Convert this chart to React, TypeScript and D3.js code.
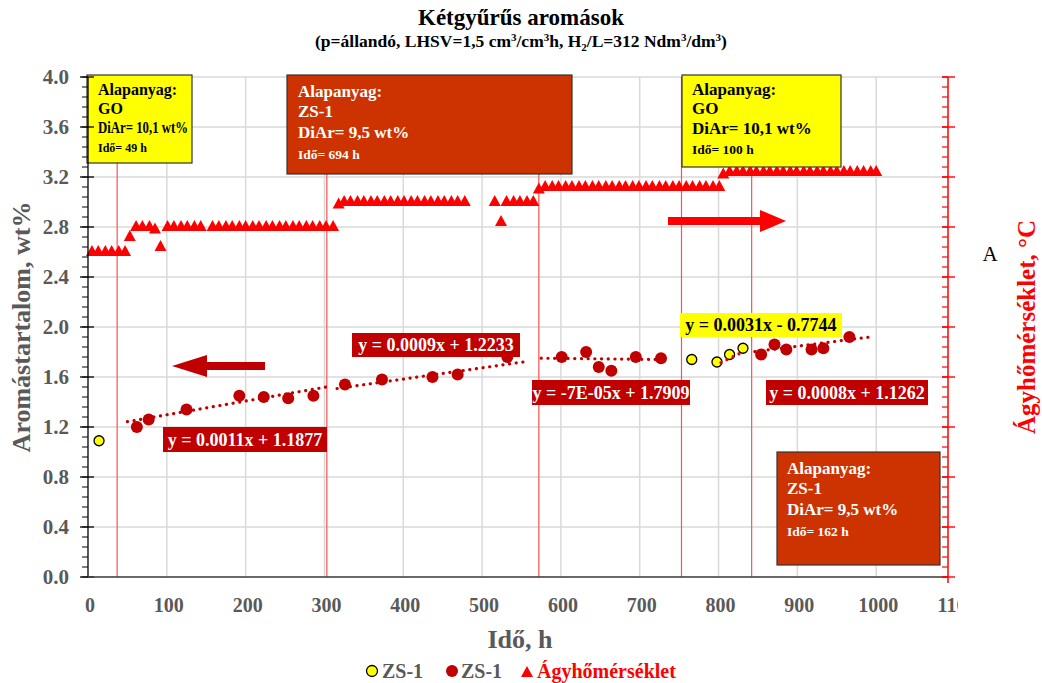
import React from 'react';
import * as d3 from 'd3';

// ---------- data ----------
const xTicks = [0, 100, 200, 300, 400, 500, 600, 700, 800, 900, 1000, 1100];
const yTicks = [0, 0.4, 0.8, 1.2, 1.6, 2.0, 2.4, 2.8, 3.2, 3.6, 4.0];

const yellowTime = [14, 766, 798, 814, 831];
const yellowAroma = [1.09, 1.74, 1.72, 1.78, 1.83];

const redTime = [62, 77, 125, 192, 223, 254, 286, 326, 373, 437, 469, 532, 601, 632, 648, 664, 695, 727, 854, 871, 886, 918, 933, 966];
const redAroma = [1.2, 1.26, 1.34, 1.45, 1.44, 1.43, 1.45, 1.54, 1.58, 1.6, 1.62, 1.76, 1.76, 1.8, 1.68, 1.65, 1.76, 1.75, 1.78, 1.86, 1.82, 1.82, 1.83, 1.92];

const tempTime = [
  5, 13, 22, 30, 39, 47,
  53,
  61, 69, 78,
  85,
  92,
  101, 109, 118, 126, 135, 143,
  158, 166, 175, 183, 192, 200, 209, 217, 226, 234, 243, 251, 260, 268, 277, 285, 294, 302, 311,
  318,
  325, 333, 342, 350, 359, 367, 376, 384, 393, 401, 410, 418, 427, 435, 444, 452, 461, 469, 478,
  516,
  524,
  531, 540, 548, 557, 565,
  572,
  580, 589, 597, 606, 614, 623, 631, 640, 648, 657, 665, 674, 682, 691, 699, 708, 716, 725, 733, 742, 750, 759, 767, 776, 784, 793, 801,
  806,
  814, 823, 831, 840, 848, 857, 865, 874, 882, 891, 899, 908, 916, 925, 933, 942, 950, 959, 967, 976, 984, 993, 1000,
];
const tempC = [
  330, 330, 330, 330, 330, 330,
  336,
  340, 340, 340,
  339,
  332,
  340, 340, 340, 340, 340, 340,
  340, 340, 340, 340, 340, 340, 340, 340, 340, 340, 340, 340, 340, 340, 340, 340, 340, 340, 340,
  349,
  350, 350, 350, 350, 350, 350, 350, 350, 350, 350, 350, 350, 350, 350, 350, 350, 350, 350, 350,
  350,
  342,
  350, 350, 350, 350, 350,
  355,
  356, 356, 356, 356, 356, 356, 356, 356, 356, 356, 356, 356, 356, 356, 356, 356, 356, 356, 356, 356, 356, 356, 356, 356, 356, 356, 356,
  361,
  362, 362, 362, 362, 362, 362, 362, 362, 362, 362, 362, 362, 362, 362, 362, 362, 362, 362, 362, 362, 362, 362, 362,
];

const trendSlope = [0.0011, 0.0009, -0.00007, 0.0031, 0.0008];
const trendIntercept = [1.1877, 1.2233, 1.7909, -0.7744, 1.1262];
const trendFrom = [50, 316, 575, 803, 846];
const trendTo = [303, 552, 732, 832, 992];
const trendLabel = ['y = 0.0011x + 1.1877', 'y = 0.0009x + 1.2233', 'y = -7E-05x + 1.7909', 'y = 0.0031x - 0.7744', 'y = 0.0008x + 1.1262'];

const changeTimes = [37, 303, 572, 753, 842];

const feedName = ['GO', 'ZS-1', 'GO', 'ZS-1'];
const feedDiAr = ['DiAr= 10,1 wt%', 'DiAr= 9,5 wt%', 'DiAr= 10,1 wt%', 'DiAr= 9,5 wt%'];
const feedTime = ['Idő= 49 h', 'Idő= 694 h', 'Idő= 100 h', 'Idő= 162 h'];

// ---------- layout ----------
const W = 1042, H = 683;
const PL = 88, PT = 77, PB = 577, PR = 948;
const FONT = '"Liberation Serif", "Times New Roman", serif';
const GRAY = '#595959';
const DARKRED = '#c00000';
const BOXRED = '#cc3300';

const x = d3.scaleLinear().domain([0, 1100]).range([PL, 955]);
const y = d3.scaleLinear().domain([0, 4]).range([PB, PT]);
const yT = d3.scaleLinear().domain([200, 400]).range([PB, PT]);

// annotation boxes (pixel layout)
const feedBoxes = [
  { x0: 87, y0: 75, w: 105, h: 88, bg: '#ffff00', fg: '#000', tx: 98, fs: 16, fsSmall: 12, fit: 90, lines: [95, 114, 133, 152] },
  { x0: 287, y0: 75, w: 285, h: 99, bg: BOXRED, fg: '#fff', tx: 298, fs: 17, fsSmall: 13.5, fit: 0, lines: [97, 117, 138, 159] },
  { x0: 682, y0: 75, w: 159, h: 92, bg: '#ffff00', fg: '#000', tx: 692, fs: 17, fsSmall: 13.5, fit: 0, lines: [95, 114, 134, 154] },
  { x0: 777, y0: 452, w: 163, h: 113, bg: BOXRED, fg: '#fff', tx: 787, fs: 17, fsSmall: 13.5, fit: 0, lines: [474, 494, 515, 536] },
];
const eqBoxes = [
  { x0: 163, y0: 427, w: 164, h: 25, bg: DARKRED, fg: '#fff' },
  { x0: 352, y0: 333, w: 168, h: 24, bg: DARKRED, fg: '#fff' },
  { x0: 532, y0: 380, w: 158, h: 25, bg: DARKRED, fg: '#fff' },
  { x0: 680, y0: 313, w: 162, h: 24, bg: '#ffff00', fg: '#000' },
  { x0: 766, y0: 380, w: 162, h: 25, bg: DARKRED, fg: '#fff' },
];

const triPath = 'M0,-7L6,4L-6,4Z';

export default function App() {
  const minorY = d3.range(0, 4.0001, 0.08);
  const rightMinor = d3.range(200, 400.001, 4);
  const rightMajor = d3.range(200, 400.001, 20);
  const trendLine = d3.line<number>();

  return (
    <svg width={W} height={H} viewBox={`0 0 ${W} ${H}`}
      style={{ position: 'absolute', left: 0, top: 0, background: '#fff' }}
      fontFamily={FONT}>
      <defs>
        <clipPath id="xlabClip"><rect x={0} y={580} width={958} height={40} /></clipPath>
      </defs>
      <rect width={W} height={H} fill="#fff" />

      {/* titles */}
      <text x={521} y={25} textAnchor="middle" fontSize={23} fontWeight="bold">Kétgyűrűs aromások</text>
      <text x={521} y={47} textAnchor="middle" fontSize={17.5} fontWeight="bold">
        (p=állandó, LHSV=1,5 cm<tspan dy={-6} fontSize={11}>3</tspan><tspan dy={6}>/cm</tspan><tspan dy={-6} fontSize={11}>3</tspan><tspan dy={6}>h, H</tspan><tspan dy={4} fontSize={11}>2</tspan><tspan dy={-4}>/L=312 Ndm</tspan><tspan dy={-6} fontSize={11}>3</tspan><tspan dy={6}>/dm</tspan><tspan dy={-6} fontSize={11}>3</tspan><tspan dy={6}>)</tspan>
      </text>

      {/* gridlines */}
      {yTicks.map(v => (
        <line key={'gy' + v} x1={PL} x2={PR} y1={y(v)} y2={y(v)} stroke="#d9d9d9" strokeWidth={1.5} />
      ))}
      {xTicks.filter(v => x(v) < PR - 2 && v > 0).map(v => (
        <line key={'gx' + v} x1={x(v)} x2={x(v)} y1={PT} y2={PB} stroke="#d9d9d9" strokeWidth={1.5} />
      ))}

      {/* feed change lines */}
      {changeTimes.map(t => (
        <line key={'c' + t} x1={x(t)} x2={x(t)} y1={PT} y2={PB} stroke="#ff5050" strokeWidth={1.2} />
      ))}

      {/* temperature triangles */}
      {tempTime.map((t, i) => (
        <path key={'t' + i} d={triPath} transform={`translate(${x(t)},${yT(tempC[i])})`} fill="#ff0000" />
      ))}

      {/* arrows */}
      <path d={`M172,366 L207,355 L207,362 L265,362 L265,370 L207,370 L207,377 Z`} fill={DARKRED} />
      <path d={`M668,217 L760,217 L760,210 L786,221 L760,232 L760,225 L668,225 Z`} fill="#ff0000" />

      {/* red points */}
      {redTime.map((t, i) => (
        <circle key={'r' + i} cx={x(t)} cy={y(redAroma[i])} r={6} fill={DARKRED} />
      ))}
      {/* yellow points */}
      {yellowTime.map((t, i) => (
        <circle key={'yl' + i} cx={x(t)} cy={y(yellowAroma[i])} r={5} fill="#ffff00" stroke="#000" strokeWidth={1.3} />
      ))}

      {/* trendlines */}
      {trendSlope.map((s, i) => {
        const pts: [number, number][] = [trendFrom[i], trendTo[i]].map(t => [x(t), y(s * t + trendIntercept[i])]);
        return (
          <path key={'tr' + i} d={trendLine(pts) || ''} fill="none"
            stroke={i === 3 ? '#e00000' : DARKRED} strokeWidth={3.2}
            strokeDasharray="0.1 6.6" strokeLinecap="round" />
        );
      })}

      {/* equation labels */}
      {eqBoxes.map((b, i) => (
        <g key={'eq' + i}>
          <rect x={b.x0} y={b.y0} width={b.w} height={b.h} fill={b.bg} />
          <text x={b.x0 + b.w / 2} y={b.y0 + b.h / 2 + 6} textAnchor="middle" fontSize={18} fontWeight="bold" fill={b.fg}>{trendLabel[i]}</text>
        </g>
      ))}

      {/* feed boxes */}
      {feedBoxes.map((b, i) => (
        <g key={'fb' + i}>
          <rect x={b.x0} y={b.y0} width={b.w} height={b.h} fill={b.bg} stroke="#333" strokeWidth={1.2} />
          <text x={b.tx} y={b.lines[0]} fontSize={b.fs} fontWeight="bold" fill={b.fg}>Alapanyag:</text>
          <text x={b.tx} y={b.lines[1]} fontSize={b.fs} fontWeight="bold" fill={b.fg}>{feedName[i]}</text>
          {b.fit > 0 ? (
            <text x={b.tx} y={b.lines[2]} fontSize={b.fs} fontWeight="bold" fill={b.fg} textLength={b.fit} lengthAdjust="spacingAndGlyphs">{feedDiAr[i]}</text>
          ) : (
            <text x={b.tx} y={b.lines[2]} fontSize={b.fs} fontWeight="bold" fill={b.fg}>{feedDiAr[i]}</text>
          )}
          <text x={b.tx} y={b.lines[3]} fontSize={b.fsSmall} fontWeight="bold" fill={b.fg}>{feedTime[i]}</text>
        </g>
      ))}

      {/* left axis */}
      <line x1={PL} x2={PL} y1={PT} y2={PB} stroke="#000" strokeWidth={1.3} />
      {minorY.map((v, i) => (
        <line key={'ly' + i} x1={PL - 6} x2={PL} y1={y(v)} y2={y(v)} stroke="#000" strokeWidth={1} />
      ))}
      {yTicks.map(v => (
        <g key={'lt' + v}>
          <line x1={PL - 8} x2={PL + 6} y1={y(v)} y2={y(v)} stroke="#000" strokeWidth={1.3} />
          <text x={69} y={y(v) + 7} textAnchor="end" fontSize={21} fontWeight="bold" fill={GRAY}>{v.toFixed(1)}</text>
        </g>
      ))}

      {/* bottom axis */}
      <line x1={PL} x2={PR} y1={PB} y2={PB} stroke="#404040" strokeWidth={1.3} />
      <g clipPath="url(#xlabClip)">
        {xTicks.map(v => (
          <g key={'bt' + v}>
            {x(v) <= PR && <line x1={x(v)} x2={x(v)} y1={PB} y2={PB - 5} stroke="#404040" strokeWidth={1} />}
            <text x={x(v) + 2} y={612} textAnchor="middle" fontSize={20} fontWeight="bold" fill={GRAY}>{v}</text>
          </g>
        ))}
      </g>

      {/* right axis */}
      <line x1={PR} x2={PR} y1={PT} y2={PB + 6} stroke="#ff0000" strokeWidth={1.5} />
      {rightMinor.map((v, i) => (
        <line key={'rm' + i} x1={PR - 6} x2={PR} y1={yT(v)} y2={yT(v)} stroke="#ff0000" strokeWidth={1.2} />
      ))}
      {rightMajor.map((v, i) => (
        <line key={'rM' + i} x1={PR - 6} x2={PR + 7} y1={yT(v)} y2={yT(v)} stroke="#ff0000" strokeWidth={1.4} />
      ))}

      {/* axis titles */}
      <text x={520} y={648} textAnchor="middle" fontSize={26} fontWeight="bold" fill={GRAY}>Idő, h</text>
      <text transform="translate(30,327) rotate(-90)" textAnchor="middle" fontSize={26} fontWeight="bold" fill={GRAY}>Aromástartalom, wt%</text>
      <text transform="translate(1035,327) rotate(-90)" textAnchor="middle" fontSize={25} fontWeight="bold" fill="#ff0000">Ágyhőmérséklet, °C</text>
      <text x={990} y={261} textAnchor="middle" fontSize={21} fill="#000">A</text>

      {/* legend */}
      <circle cx={372} cy={671} r={5.5} fill="#ffff00" stroke="#000" strokeWidth={1.3} />
      <text x={382} y={678} fontSize={20} fontWeight="bold" fill={GRAY}>ZS-1</text>
      <circle cx={452} cy={671} r={6} fill={DARKRED} />
      <text x={461} y={678} fontSize={20} fontWeight="bold" fill={GRAY}>ZS-1</text>
      <path d={triPath} transform="translate(527,673)" fill="#ff0000" />
      <text x={537} y={678} fontSize={20} fontWeight="bold" fill="#ff0000">Ágyhőmérséklet</text>
    </svg>
  );
}
